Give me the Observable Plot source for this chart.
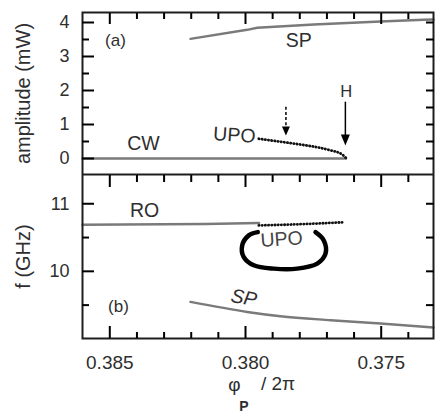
<!DOCTYPE html>
<html><head><meta charset="utf-8">
<script src="https://cdn.jsdelivr.net/npm/d3@7"></script>
<script src="https://cdn.jsdelivr.net/npm/@observablehq/plot@0.6"></script>
<style>
html,body{margin:0;padding:0;background:#fff;}
#chart svg{display:block;font-family:'Liberation Sans', Arial, Helvetica, sans-serif;}
</style></head><body><div id="chart"></div>
<script>
// ---------- data ----------
const xDomain = [0.386006, 0.373073];
const ampDomain = [-0.4706, 4.294];
const freqDomain = [9.006, 11.433];

const xMajorTicks = [0.385, 0.380, 0.375];
const xMinorTicks = [0.384,0.383,0.382,0.381,0.379,0.378,0.377,0.376,0.374];
const ampMajorTicks = [0, 1, 2, 3, 4];
const ampMinorTicks = [0.5, 1.5, 2.5, 3.5];
const ampRightTicks = [0, 0.5, 1, 1.5, 2, 2.5, 3, 3.5, 4];
const freqMajorTicks = [10, 11];
const freqMinorTicks = [9.5, 10.5];
const freqRightTicks = [9.5, 10, 10.5, 11];

// panel (a): amplitude
const cwX = [0.386006, 0.3763];
const cwY = [0, 0];
const spAmpX = [0.38203, 0.379937, 0.379569, 0.377483, 0.375026, 0.37343, 0.373073];
const spAmpY = [3.52, 3.785, 3.844, 3.941, 4.029, 4.079, 4.088];
const upoAmpX = [0.37951, 0.37859, 0.37797, 0.37736, 0.37687, 0.37644, 0.3763];
const upoAmpY = [0.58, 0.48, 0.41, 0.33, 0.24, 0.12, 0.02];
// arrows: x, top, tip
const arrowDashed = {x: 0.37851, y1: 1.509, y2: 0.676};
const arrowH = {x: 0.37632, y1: 1.656, y2: 0.382};

const labelsA = ["(a)", "SP", "CW", "UPO", "H"];
const labelsAX = [0.38479, 0.37804, 0.38376, 0.38041, 0.37629];
const labelsAY = [3.47, 3.46, 0.44, 0.685, 1.95];

// panel (b): frequency
const roX = [0.386006, 0.3815, 0.3795];
const roY = [10.69, 10.70, 10.715];
const upoFreqX = [0.37951, 0.3785, 0.3775, 0.37644];
const upoFreqY = [10.68, 10.69, 10.705, 10.725];
const spFreqX = [0.38203, 0.379937, 0.378711, 0.376868, 0.375026, 0.373073];
const spFreqY = [9.547, 9.399, 9.335, 9.276, 9.227, 9.168];
const loopX = [0.379547, 0.379878, 0.380122, 0.380063, 0.379694, 0.378957, 0.378095, 0.377358, 0.377052, 0.377115, 0.377421];
const loopY = [10.58, 10.532, 10.384, 10.211, 10.089, 10.04, 10.04, 10.114, 10.261, 10.458, 10.58];

const labelsB = ["RO", "UPO", "SP", "(b)"];
const labelsBX = [0.38372, 0.37867, 0.38006, 0.38468];
const labelsBY = [10.89, 10.473, 9.609, 9.483];

const yTitleA = "amplitude (mW)";
const yTitleB = "f (GHz)";
const xTitle = ["φ", "P", "/ 2π"];

// ---------- layout ----------
const W = 435, ML = 82, MR = 2;
const HA = 174, MTA = 12;
const HB = 245, MBB = 81;

// ---------- helpers ----------
const pts = (xs, ys) => xs.map((x, i) => ({x, y: ys[i]}));
const ink = "black", gray = "#7a7a7a", txt = "#2e2e2e";
const tri = (w, h) => ({draw(ctx) { ctx.moveTo(0, 0); ctx.lineTo(-w / 2, -h); ctx.lineTo(w / 2, -h); ctx.closePath(); }});
const dotted = {stroke: "#111", strokeWidth: 2.8, strokeDasharray: "0.3,2.9", strokeLinecap: "round"};
// inward ticks drawn by the library's axis marks (negative tick size, no text)
const tickY = (vals, anchor, len) => Plot.axisY(vals, {anchor, tickSize: -len, stroke: "black", strokeWidth: 2, fill: "none", label: null});
const tickX = (vals, anchor, len) => Plot.axisX(vals, {anchor, tickSize: -len, stroke: "black", strokeWidth: 2, fill: "none", label: null});

// ---------- panel (a) ----------
const la = labelsA.map((t, i) => ({t, x: labelsAX[i], y: labelsAY[i]}));
const panelA = Plot.plot({
  width: W, height: HA,
  marginLeft: ML, marginRight: MR, marginTop: MTA, marginBottom: 0,
  x: {domain: xDomain},
  y: {domain: ampDomain},
  marks: [
    Plot.line(pts(cwX, cwY), {x: "x", y: "y", stroke: gray, strokeWidth: 2.6}),
    Plot.line(pts(spAmpX, spAmpY), {x: "x", y: "y", stroke: gray, strokeWidth: 2.4}),
    Plot.line(pts(upoAmpX, upoAmpY), {x: "x", y: "y", curve: "monotone-x", ...dotted}),
    Plot.ruleX([arrowDashed], {x: "x", y1: "y1", y2: "y2", stroke: ink, strokeWidth: 1.5, strokeDasharray: "3,2.2", insetBottom: 6}),
    Plot.ruleX([arrowH], {x: "x", y1: "y1", y2: "y2", stroke: ink, strokeWidth: 1.5, insetBottom: 6}),
    Plot.dot([arrowDashed], {x: "x", y: "y2", symbol: tri(8, 9), fill: ink, stroke: "none"}),
    Plot.dot([arrowH], {x: "x", y: "y2", symbol: tri(9, 11), fill: ink, stroke: "none"}),
    Plot.text(la.filter(d => d.t === "(a)"), {x: "x", y: "y", text: "t", fontSize: 17, fill: txt}),
    Plot.text(la.filter(d => d.t === "SP" || d.t === "CW"), {x: "x", y: "y", text: "t", fontSize: 19.5, fill: txt}),
    Plot.text(la.filter(d => d.t === "UPO"), {x: "x", y: "y", text: "t", fontSize: 19.5, fill: txt, rotate: 4}),
    Plot.text(la.filter(d => d.t === "H"), {x: "x", y: "y", text: "t", fontSize: 16.5, fill: txt}),
    Plot.text([yTitleA], {frameAnchor: "left", textAnchor: "middle", dx: -59, rotate: -90, fontSize: 20, fill: txt}),
    Plot.axisY(ampMajorTicks, {anchor: "left", tickSize: 0, tickPadding: 13, fontSize: 18, fill: txt, label: null, tickFormat: "d"}),
    Plot.frame({stroke: "#1e1e1e", strokeWidth: 2}),
    tickY(ampMajorTicks, "left", 12),
    tickY(ampMinorTicks, "left", 7),
    tickY(ampRightTicks, "right", 8),
    tickX(xMajorTicks, "top", 11),
    tickX(xMinorTicks, "top", 6)
  ]
});

// ---------- panel (b) ----------
const lb = labelsB.map((t, i) => ({t, x: labelsBX[i], y: labelsBY[i]}));
const panelB = Plot.plot({
  width: W, height: HB,
  marginLeft: ML, marginRight: MR, marginTop: 0, marginBottom: MBB,
  x: {domain: xDomain},
  y: {domain: freqDomain},
  marks: [
    Plot.line(pts(roX, roY), {x: "x", y: "y", stroke: gray, strokeWidth: 2.4}),
    Plot.line(pts(spFreqX, spFreqY), {x: "x", y: "y", stroke: gray, strokeWidth: 2.4, curve: "monotone-x"}),
    Plot.line(pts(upoFreqX, upoFreqY), {x: "x", y: "y", ...dotted}),
    Plot.text(lb.filter(d => d.t === "UPO"), {x: "x", y: "y", text: "t", fontSize: 19.5, fill: "#444", rotate: -4}),
    Plot.line(pts(loopX, loopY), {x: "x", y: "y", stroke: "#000", strokeWidth: 4.5, strokeLinecap: "round", curve: "catmull-rom"}),
    Plot.text(lb.filter(d => d.t === "RO"), {x: "x", y: "y", text: "t", fontSize: 19.5, fill: txt}),
    Plot.text(lb.filter(d => d.t === "SP"), {x: "x", y: "y", text: "t", fontSize: 19.5, fill: txt, fontStyle: "italic", rotate: 10}),
    Plot.text(lb.filter(d => d.t === "(b)"), {x: "x", y: "y", text: "t", fontSize: 17, fill: txt}),
    Plot.text([yTitleB], {frameAnchor: "left", textAnchor: "middle", dx: -59, rotate: -90, fontSize: 20, fill: txt}),
    Plot.text([xTitle[0]], {frameAnchor: "bottom", textAnchor: "middle", dx: -23.5, dy: 52, fontSize: 19, fill: txt}),
    Plot.text([xTitle[1]], {frameAnchor: "bottom", textAnchor: "middle", dx: -14, dy: 72, fontSize: 14, fontWeight: "bold", fill: txt}),
    Plot.text([xTitle[2]], {frameAnchor: "bottom", textAnchor: "middle", dx: 20, dy: 51, fontSize: 19, fill: txt}),
    Plot.axisY(freqMajorTicks, {anchor: "left", tickSize: 0, tickPadding: 13, fontSize: 18, fill: txt, label: null, tickFormat: "d"}),
    Plot.axisX(xMajorTicks, {anchor: "bottom", tickSize: 0, tickPadding: 17, tickFormat: d3.format(".3f"), fontSize: 19, fill: txt, label: null}),
    Plot.frame({stroke: "#1e1e1e", strokeWidth: 2}),
    tickY(freqMajorTicks, "left", 12),
    tickY(freqMinorTicks, "left", 7),
    tickY(freqRightTicks, "right", 8),
    tickX(xMajorTicks, "top", 12),
    tickX(xMinorTicks, "top", 7),
    tickX(xMajorTicks, "bottom", 12),
    tickX(xMinorTicks, "bottom", 6)
  ]
});

const chart = document.getElementById("chart");
chart.appendChild(panelA);
chart.appendChild(panelB);
</script>
</body></html>
